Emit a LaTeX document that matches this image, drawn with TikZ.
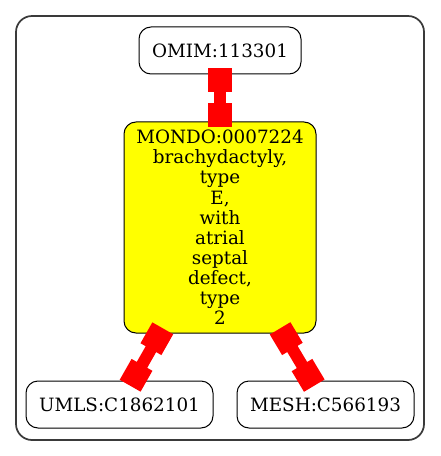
\documentclass[tikz,border=0pt]{standalone}
\usepackage{fontspec}
\setmainfont{DejaVu Serif}
\usepackage{xcolor}
\usepackage{tikz}
\usetikzlibrary{arrows.meta}
\definecolor{edgered}{HTML}{FF0000}
\definecolor{termfill}{HTML}{FFFF00}
\definecolor{framegray}{HTML}{3A3A3A}
\tikzset{
  frame/.style={draw=framegray, line width=1.3pt, rounded corners=12pt},
  box/.style={draw=black, line width=0.75pt, rounded corners=9pt, fill=white,
    inner sep=0pt, align=center, font=\fontsize{13.75}{15.1}\selectfont},
  term/.style={box, fill=termfill},
  link/.style={draw=edgered, line width=9pt,
    arrows={Square[length=18pt,width=18pt]-Square[length=18pt,width=18pt]},
    shorten <=-4.5pt, shorten >=-4.5pt}
}

\begin{document}
\begin{tikzpicture}[x=0.75pt, y=-0.75pt]
  \useasboundingbox (0,0) rectangle (440,456);
  \draw[frame] (16,16) rectangle (424,440);

  \node[box, minimum width=121.5pt, minimum height=35.25pt] (omim) at (220,50.5) {OMIM:113301};
  \node[term, minimum width=144pt, minimum height=158.25pt] (mondo) at (220,227.5)
    {MONDO:0007224\\brachydactyly,\\type\\E,\\with\\atrial\\septal\\defect,\\type\\2};
  \node[box, minimum width=140.25pt, minimum height=35.25pt] (umls) at (119.5,404.5) {UMLS:C1862101};
  \node[box, minimum width=132.75pt, minimum height=35.25pt] (mesh) at (325.5,404.5) {MESH:C566193};

  \draw[link] (omim) -- (mondo);
  \draw[link] (mondo) -- (umls);
  \draw[link] (mondo) -- (mesh);
\end{tikzpicture}
\end{document}
